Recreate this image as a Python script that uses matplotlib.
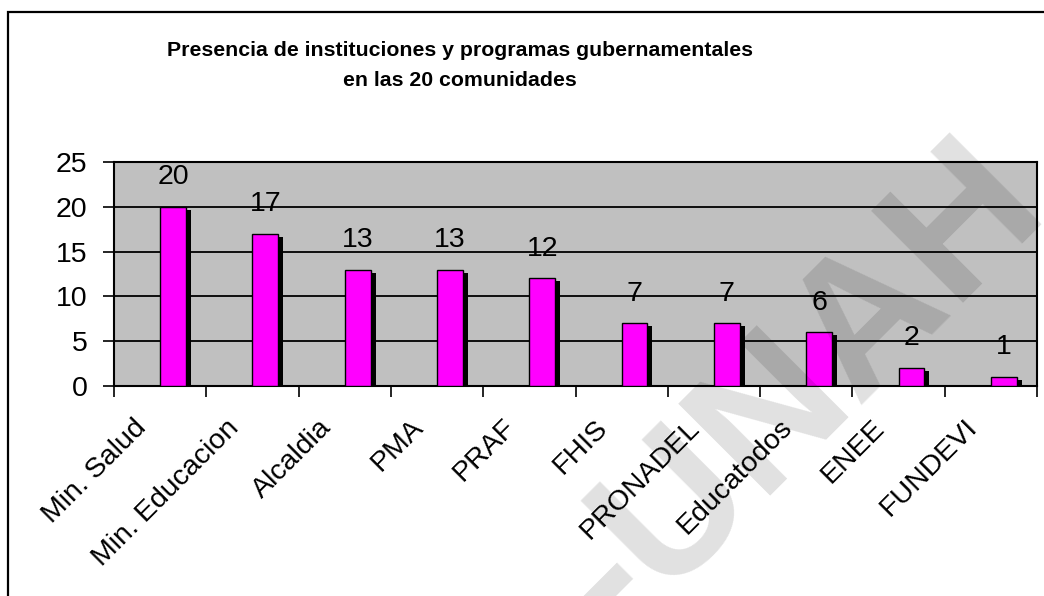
import matplotlib
matplotlib.use("Agg")
import matplotlib.pyplot as plt
import matplotlib.transforms as mtransforms
from matplotlib.patches import Rectangle
import numpy as np

plt.rcParams['font.family'] = ['Liberation Sans', 'DejaVu Sans']

# data
categories = ['Min. Salud', 'Min. Educacion', 'Alcaldia', 'PMA', 'PRAF', 'FHIS',
              'PRONADEL', 'Educatodos', 'ENEE', 'FUNDEVI']
values = [20, 17, 13, 13, 12, 7, 7, 6, 2, 1]
yticks = [0, 5, 10, 15, 20, 25]
title = 'Presencia de instituciones y programas gubernamentales\nen las 20 comunidades'

W, H = 1044, 596
fig = plt.figure(figsize=(W / 100, H / 100), dpi=100)
ax = fig.add_axes([114 / W, 1 - 386 / H, (1037 - 114) / W, (386 - 162) / H])
ax.set_facecolor('#c0c0c0')

x = np.arange(len(categories))
bar_w = 0.28
# shadow offset a few pixels right and down
dx = 5 / 92.3
dy = 3 * 25 / 224
shadow = [max(v - dy, 0) for v in values]
ax.bar(x + dx, shadow, width=bar_w, align='edge', color='black', zorder=2)
ax.bar(x, values, width=bar_w, align='edge', color='#ff00ff',
       edgecolor='black', linewidth=1.0, zorder=3)

for xi, v in zip(x, values):
    ax.annotate(str(v), (xi + bar_w / 2, v), xytext=(0, 12), textcoords='offset points',
                ha='center', va='bottom', fontsize=20.5, zorder=4)

ax.set_xlim(-0.5, len(categories) - 0.5)
ax.set_ylim(0, 25)
ax.set_yticks(yticks)
ax.tick_params(axis='y', labelsize=20.5, length=8, width=1.2, pad=11)
ax.yaxis.grid(True, color='black', linewidth=1.3, zorder=1)
ax.set_axisbelow(True)

# tick marks between categories, labels at the centers
ax.set_xticks(np.arange(len(categories) + 1) - 0.5, minor=True)
ax.set_xticks(x)
ax.set_xticklabels(categories, rotation=45, ha='right', va='top',
                   rotation_mode='anchor', fontsize=20.5)
ax.tick_params(axis='x', which='major', length=0, pad=20.5)
ax.tick_params(axis='x', which='minor', length=8, width=1.2)
shift = mtransforms.ScaledTranslation(-27 / 100, 0, fig.dpi_scale_trans)
for lab in ax.get_xticklabels():
    lab.set_transform(lab.get_transform() + shift)

for s in ax.spines.values():
    s.set_linewidth(1.5)
    s.set_color('black')

fig.text(460 / W, 1 - 41 / H, title, ha='center', va='top', fontsize=15.3,
         fontweight='bold', linespacing=1.75)

# outer chart frame
fig.patches.append(Rectangle((8 / W, -0.2), 1.2, 1.2 - 12 / H, transform=fig.transFigure,
                             fill=False, edgecolor='black', linewidth=1.6))

# watermark
fig.text(800 / W, 1 - 390 / H, '-UNAH', rotation=45, ha='center', va='center',
         fontsize=136, fontweight='bold', color='black', alpha=0.12,
         rotation_mode='anchor', zorder=10)

fig.savefig('out.png', dpi=100)
